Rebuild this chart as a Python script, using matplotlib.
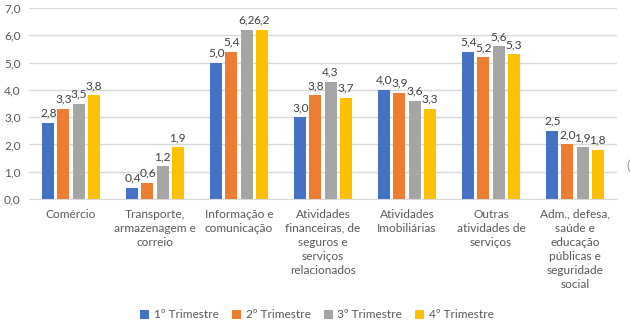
import matplotlib
matplotlib.use("Agg")
import matplotlib.pyplot as plt
import numpy as np
from matplotlib.patches import Patch

categories = [
    "Comércio",
    "Transporte,\narmazenagem e\ncorreio",
    "Informação e\ncomunicação",
    "Atividades\nfinanceiras, de\nseguros e\nserviços\nrelacionados",
    "Atividades\nImobiliárias",
    "Outras\natividades de\nserviços",
    "Adm., defesa,\nsaúde e\neducação\npúblicas e\nseguridade\nsocial",
]
series_names = ["1º Trimestre", "2º Trimestre", "3º Trimestre", "4º Trimestre"]
q1 = [2.8, 0.4, 5.0, 3.0, 4.0, 5.4, 2.5]
q2 = [3.3, 0.6, 5.4, 3.8, 3.9, 5.2, 2.0]
q3 = [3.5, 1.2, 6.2, 4.3, 3.6, 5.6, 1.9]
q4 = [3.8, 1.9, 6.2, 3.7, 3.3, 5.3, 1.8]
yticks = [0, 1, 2, 3, 4, 5, 6, 7]

colors = ["#4472C4", "#ED7D31", "#A5A5A5", "#FFC000"]
text_color = "#595959"
font = ["Lato", "DejaVu Sans"]
plt.rcParams["font.family"] = font
fs = 8.6

fig = plt.figure(figsize=(6.3, 3.24), dpi=100)
ax = fig.add_axes([29/630, 1-199/324, (617-29)/630, (199-8)/324])

x = np.arange(len(categories))
width = 0.143
step = 0.179
offsets = [-1.5*step, -0.5*step, 0.5*step, 1.5*step]
for vals, off, c in zip([q1, q2, q3, q4], offsets, colors):
    bars = ax.bar(x + off, vals, width, color=c, zorder=3)
    for b, v in zip(bars, vals):
        ax.annotate(f"{v:.1f}".replace(".", ","),
                    (b.get_x() + b.get_width()/2, b.get_height()),
                    xytext=(0, 3), textcoords="offset points",
                    ha="center", va="bottom", fontsize=fs, color="#404040")

ax.set_xlim(-0.5, len(categories) - 0.5)
ax.set_ylim(0, 7)
ax.set_yticks(yticks)
ax.set_yticklabels([f"{t:.1f}".replace(".", ",") for t in yticks],
                   fontsize=fs, color=text_color)
ax.set_xticks(x)
ax.set_xticklabels(categories, fontsize=fs, color=text_color, linespacing=1.35)
ax.tick_params(axis="both", length=0)
ax.tick_params(axis="y", pad=6)
ax.tick_params(axis="x", pad=7)
ax.grid(axis="y", color="#D9D9D9", linewidth=1, zorder=0)
for s in ["top", "right", "left"]:
    ax.spines[s].set_visible(False)
ax.spines["bottom"].set_color("#D9D9D9")

handles = [Patch(facecolor=c, edgecolor="none") for c in colors]
fig.legend(handles, series_names, loc="center", bbox_to_anchor=(317/630, 1-315/324),
           ncol=4, frameon=False, fontsize=fs, handlelength=0.75, handleheight=0.75,
           handletextpad=0.4, columnspacing=1.1, labelcolor=text_color)

fig.text(626/630, 1-166/324, "(", fontsize=10, color="#A0A0A0", ha="left", va="center")

fig.savefig("out.png", dpi=100)
